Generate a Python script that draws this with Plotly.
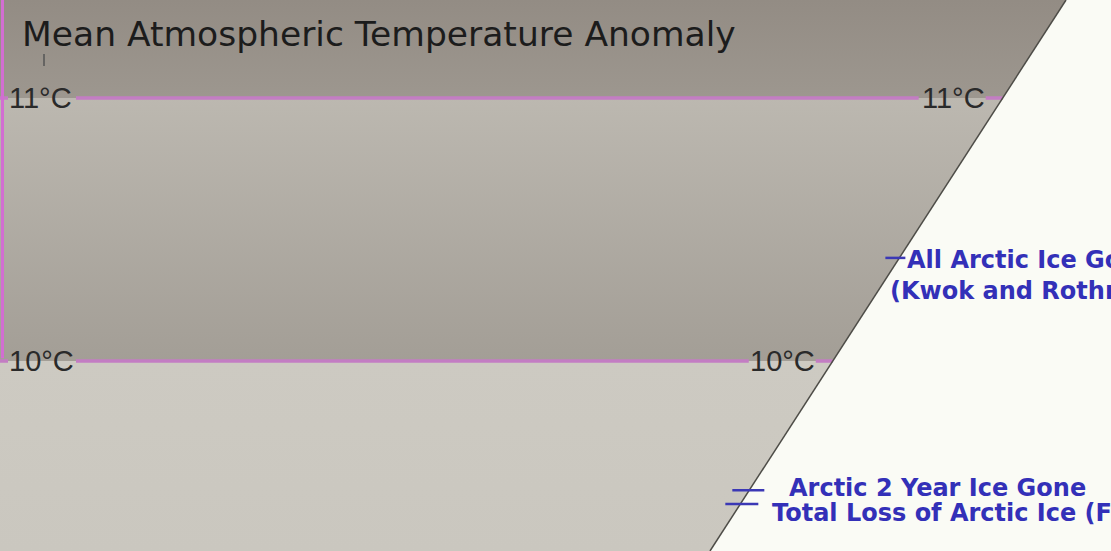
import plotly.graph_objects as go

# ---------------- data ----------------
title_text = "Mean Atmospheric Temperature Anomaly"
temp_levels = [11, 10]                      # degC reference lines
temp_labels = ["11°C", "10°C"]
event_text = ["All Arctic Ice Go", "(Kwok and Rothr",
              "Arctic 2 Year Ice Gone", "Total Loss of Arctic Ice (F"]
event_temp = [10.384, 10.266, 9.519, 9.422]
event_x = [906, 889, 788, 771]
marker_temp = [10.392, 9.509, 9.456]

# ---------------- geometry / style ----------------
W, H = 1111, 551
Y_LO, Y_HI = 9.2776, 11.3726
X_TOP, X_BOT = 1066, 710


def diag_x(t):
    return X_BOT + (t - Y_LO) / (Y_HI - Y_LO) * (X_TOP - X_BOT)


fig = go.Figure()


def band(y0, y1, c_lo, c_hi):
    fig.add_trace(go.Scatter(
        x=[0, W, W, 0, 0], y=[y0, y0, y1, y1, y0], mode="lines",
        line=dict(width=0), fill="toself",
        fillgradient=dict(type="vertical", colorscale=[[0, c_lo], [1, c_hi]]),
        hoverinfo="skip", showlegend=False))


band(Y_LO, 10, "#cac7bf", "#cdcac2")
band(10, 11, "#a39e96", "#bcb8b0")
band(11, Y_HI, "#9d978f", "#938c84")

# white region right of the diagonal
fig.add_trace(go.Scatter(
    x=[diag_x(Y_HI), W + 5, W + 5, diag_x(Y_LO), diag_x(Y_HI)],
    y=[Y_HI, Y_HI, Y_LO, Y_LO, Y_HI], mode="lines", line=dict(width=0),
    fill="toself", fillcolor="#fafbf5", hoverinfo="skip", showlegend=False))

# magenta temperature lines (with gaps for labels)
for t in temp_levels:
    d = diag_x(t)
    fig.add_trace(go.Scatter(
        x=[0, 8, None, 76, d - 84, None, d - 17, d],
        y=[t, t, None, t, t, None, t, t], mode="lines",
        line=dict(color="rgb(195,125,195)", width=3.5),
        hoverinfo="skip", showlegend=False))

# left vertical magenta line
fig.add_trace(go.Scatter(
    x=[2.5, 2.5], y=[Y_HI, 10.01], mode="lines",
    line=dict(color="rgb(210,110,210)", width=3),
    hoverinfo="skip", showlegend=False))

# diagonal edge
fig.add_trace(go.Scatter(
    x=[diag_x(Y_HI), diag_x(Y_LO)], y=[Y_HI, Y_LO], mode="lines",
    line=dict(color="#4d4c47", width=1.5),
    hoverinfo="skip", showlegend=False))

# small tick above left 11 label
fig.add_trace(go.Scatter(
    x=[44, 44], y=[11.167, 11.122], mode="lines",
    line=dict(color="#555", width=1.5), hoverinfo="skip", showlegend=False))

# event tick marks across the diagonal
offs = [(-14, 6), (-17, 15), (-15, 18)]
for t, (a, b) in zip(marker_temp, offs):
    d = diag_x(t)
    fig.add_trace(go.Scatter(
        x=[d + a, d + b], y=[t, t], mode="lines",
        line=dict(color="#3b38b5", width=2.5),
        hoverinfo="skip", showlegend=False))

ann = []
ann.append(dict(text=title_text, xref="paper", yref="paper",
                x=20 / W, y=1 - 34 / H, xanchor="left", yanchor="middle",
                showarrow=False,
                font=dict(family="DejaVu Sans", size=34.5, color="#1c1c1c")))
for t, lab in zip(temp_levels, temp_labels):
    ann.append(dict(text=lab, x=7, y=t, xanchor="left", yanchor="middle",
                    showarrow=False,
                    font=dict(family="Liberation Sans, Arial", size=29, color="#2a2a2a")))
    ann.append(dict(text=lab, x=diag_x(t) - 16, y=t, xanchor="right", yanchor="middle",
                    showarrow=False,
                    font=dict(family="Liberation Sans, Arial", size=29, color="#2a2a2a")))
for txt, t, x in zip(event_text, event_temp, event_x):
    ann.append(dict(text=txt, x=x, y=t, xanchor="left", yanchor="middle",
                    showarrow=False, borderpad=0,
                    font=dict(family="DejaVu Sans", size=24, color="#3330b8",
                              weight="bold")))

fig.update_layout(
    width=W, height=H, margin=dict(l=0, r=0, t=0, b=0),
    paper_bgcolor="#fafbf5", plot_bgcolor="#fafbf5",
    xaxis=dict(range=[0, W], visible=False, fixedrange=True),
    yaxis=dict(range=[Y_LO, Y_HI], visible=False, fixedrange=True),
    annotations=ann, showlegend=False)

fig.write_html(
    "out.html",
    config={"displayModeBar": False},
    post_script="document.body.style.margin='0';document.body.style.overflow='hidden';")
